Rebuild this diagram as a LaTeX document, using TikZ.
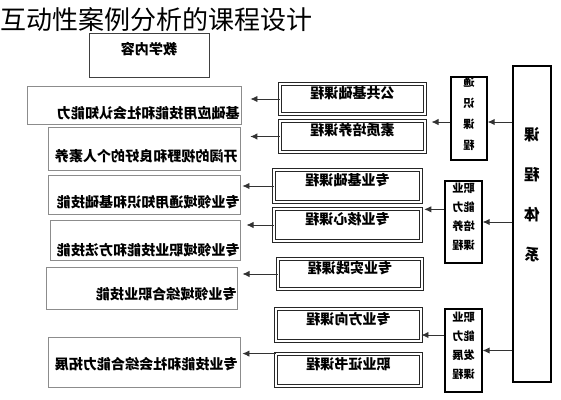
\documentclass[tikz,border=0pt]{standalone}
\usepackage{fontspec}
\setmainfont{Noto Sans CJK SC}
\usepackage{graphicx}
\usetikzlibrary{fit,arrows.meta}
\newcommand{\mr}[1]{\reflectbox{#1}}

\begin{document}
\begin{tikzpicture}[x=0.025cm,y=-0.025cm,
  outbox/.style={draw=black!45,line width=0.6pt,inner sep=0pt},
  outtxt/.style={anchor=east,inner sep=0pt,font=\fontsize{10}{12}\selectfont\bfseries},
  crsbox/.style={draw=black!85,double=white,double distance=1.4pt,line width=0.6pt,inner sep=0pt,font=\fontsize{10}{12}\selectfont\bfseries},
  catbox/.style={draw=black,line width=0.9pt,inner sep=0pt,align=center,font=\fontsize{8}{13.5}\selectfont\bfseries},
  arr/.style={draw=black!80,line width=0.6pt,-{Latex[length=5pt,width=4.5pt]}}]
\useasboundingbox (0,0) rectangle (561,400);

\node[anchor=west,inner sep=0pt,font=\fontsize{18.5}{20}\selectfont] (title) at (0,20) {互动性案例分析的课程设计};
\node[draw=black!75,line width=0.6pt,inner sep=0pt,fit={(89,33) (209,77)},font=\fontsize{10}{12}\selectfont\bfseries] (cont) {\mr{教学内容}};

\node[outbox,fit={(27,86) (241,124)}] (o1) {};
\node[outbox,fit={(48,127) (240,170)}] (o2) {};
\node[outbox,fit={(48,175) (240,214)}] (o3) {};
\node[outbox,fit={(50,220) (240,260)}] (o4) {};
\node[outbox,fit={(46,267) (237,309)}] (o5) {};
\node[outbox,fit={(48,337) (240,387)}] (o6) {};
\node[outtxt] (t1) at (240,113) {\mr{基础应用技能和社会认知能力}};
\node[outtxt] (t2) at (238,156) {\mr{开阔的视野和良好的个人素养}};
\node[outtxt] (t3) at (240,202) {\mr{专业领域通用知识和基础技能}};
\node[outtxt] (t4) at (240,250) {\mr{专业领域职业技能和方法技能}};
\node[outtxt] (t5) at (237,294) {\mr{专业领域综合职业技能}};
\node[outtxt] (t6) at (238,364) {\mr{专业技能和社会综合能力拓展}};

\node[crsbox,fit={(280,84) (425,114)}] (m1) {\mr{公共基础课程}};
\node[crsbox,fit={(280,121) (425,152)}] (m2) {\mr{素质培养课程}};
\node[crsbox,fit={(274,170) (421,202)}] (m3) {\mr{专业基础课程}};
\node[crsbox,fit={(274,209) (421,241)}] (m4) {\mr{专业核心课程}};
\node[crsbox,fit={(278,259) (422,289)}] (m5) {\mr{专业实践课程}};
\node[crsbox,fit={(276,309) (421,341)}] (m6) {\mr{专业方向课程}};
\node[crsbox,fit={(276,354) (421,386)}] (m7) {\mr{职业证书课程}};

\node[catbox,fit={(451,77) (487,160)},font=\fontsize{8}{15}\selectfont\bfseries] (c1) {\mr{通}\\\mr{识}\\\mr{课}\\\mr{程}};
\node[catbox,fit={(445,181) (482,263)}] (c2) {\mr{职业}\\\mr{能力}\\\mr{培养}\\\mr{课程}};
\node[catbox,fit={(445,309) (482,392)}] (c3) {\mr{职业}\\\mr{能力}\\\mr{发展}\\\mr{课程}};

\node[draw=black,line width=2pt,inner sep=0pt,fit={(513,66) (551,382)}] (sys) {};
\node[align=center,inner sep=0pt,font=\fontsize{11}{28.5}\selectfont\bfseries] (systxt) at (532,195) {\mr{课}\\\mr{程}\\\mr{体}\\\mr{系}};

\draw[arr,shorten >=6.4pt] (m1.west) -- (o1.east |- m1.west);
\draw[arr,shorten >=7pt] (m2.west) -- (o2.east |- m2.west);
\draw[arr,shorten >=1.4pt] (m3.west) -- (o3.east |- m3.west);
\draw[arr,shorten >=4.3pt] (m4.west) -- (o4.east |- m4.west);
\draw[arr,shorten >=3.6pt] (m5.west) -- (o5.east |- m5.west);
\draw[arr,shorten >=1.4pt] (m7.north west) -- (o6.east |- m7.north west);

\draw[arr,shorten >=4.3pt] ([yshift=-2.5pt]c1.west) -- ([yshift=-2.5pt]c1.west -| m1.east);
\draw[arr,shorten >=2pt] ([yshift=9pt]c2.west) -- ([yshift=9pt]c2.west -| m3.east);
\draw[arr] ([yshift=11pt]c3.west) -- ([yshift=11pt]c3.west -| m6.east);

\draw[arr] ([yshift=-2.5pt]sys.west |- c1.east) -- ([yshift=-2.5pt]c1.east);
\draw[arr] (sys.west |- c2.east) -- (c2.east);
\draw[arr] (sys.west |- c3.east) -- (c3.east);
\end{tikzpicture}
\end{document}
